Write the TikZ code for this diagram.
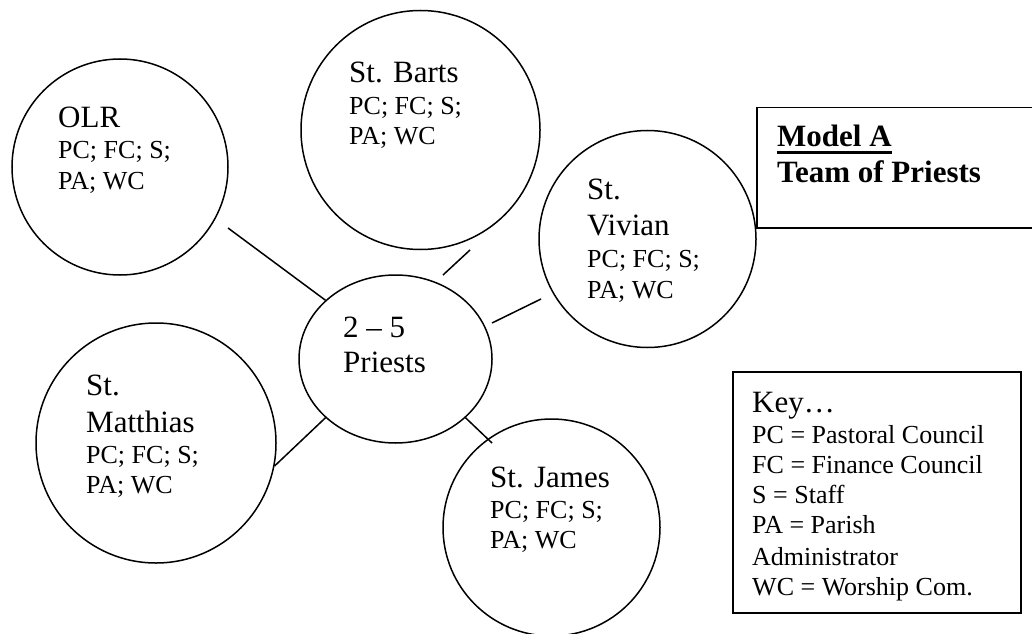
\documentclass[tikz,border=0pt]{standalone}
\usepackage{fontspec}
\setmainfont{Liberation Serif}
\usetikzlibrary{shapes.geometric}
\begin{document}
\begin{tikzpicture}[x=1pt,y=1pt,
  parish/.style={draw,circle,line width=1.5pt,inner sep=0pt},
  big/.style={anchor=base west,inner sep=0pt,font=\fontsize{31}{36}\selectfont},
  small/.style={anchor=base west,inner sep=0pt,font=\fontsize{26}{30}\selectfont},
  bigb/.style={anchor=base west,inner sep=0pt,font=\fontsize{31}{36}\selectfont\bfseries},
  link/.style={line width=1.5pt},
  frame/.style={draw,rectangle,line width=1.5pt,inner sep=0pt}]
\useasboundingbox (0,0) rectangle (1032,633);
% circles
\node[parish,minimum size=216pt] (olr) at (120,466) {};
\node[parish,minimum size=239pt] (bar) at (420.5,503) {};
\node[parish,minimum size=217pt] (viv) at (647.5,394) {};
\node[parish,minimum size=240pt] (mat) at (156,190) {};
\node[parish,minimum size=217pt] (jam) at (551.5,105.5) {};
\node[draw,ellipse,line width=1.5pt,inner sep=0pt,minimum width=193pt,minimum height=168pt] (pri) at (395.5,274) {};
% boxes
\node[frame,minimum width=290pt,minimum height=120pt,anchor=north west] (modbox) at (756,526) {};
\node[frame,minimum width=288pt,minimum height=241pt,anchor=north west] (keybox) at (732,262) {};
% texts
\node[big]   (olr1) at (58,505) {OLR};
\node[small] (olr2) at (58,474) {PC; FC; S;};
\node[small] (olr3) at (58,443) {PA; WC};
\node[big]   (bar1) at (349,550) {St. Barts};
\node[small] (bar2) at (349,518) {PC; FC; S;};
\node[small] (bar3) at (349,488) {PA; WC};
\node[big]   (viv1) at (587,434) {St.};
\node[big]   (viv2) at (587,398) {Vivian};
\node[small] (viv3) at (587,366) {PC; FC; S;};
\node[small] (viv4) at (587,335) {PA; WC};
\node[big]   (mat1) at (86,238) {St.};
\node[big]   (mat2) at (86,201) {Matthias};
\node[small] (mat3) at (86,170) {PC; FC; S;};
\node[small] (mat4) at (86,140) {PA; WC};
\node[big]   (pri1) at (343,296) {2 -- 5};
\node[big]   (pri2) at (343,261) {Priests};
\node[big]   (jam1) at (490,146) {St. James};
\node[small] (jam2) at (490,115) {PC; FC; S;};
\node[small] (jam3) at (490,85) {PA; WC};
\node[bigb]  (modA) at (777,486) {Model A};
\node[bigb]  (modB) at (777,450) {Team of Priests};
\draw[line width=2.6pt] ([yshift=-5.5pt]modA.base west) -- ([yshift=-5.5pt]modA.base east);
\node[big]   (key0) at (752,221) {Key…};
\node[small] (key1) at (752,190) {PC = Pastoral Council};
\node[small] (key2) at (752,160) {FC = Finance Council};
\node[small] (key3) at (752,130) {S = Staff};
\node[small] (key4) at (752,100) {PA = Parish};
\node[small] (key5) at (752,68) {Administrator};
\node[small] (key6) at (752,38) {WC = Worship Com.};
% connectors
\coordinate (c1) at (228,405);
\coordinate (c2a) at (443,358);
\coordinate (c2b) at (470,383);
\coordinate (c3a) at (492,310);
\coordinate (c3b) at (541,334);
\coordinate (c5) at (492,190);
\draw[link] (c1) -- (pri.140);
\draw[link] (c2a) -- (c2b);
\draw[link] (c3a) -- (c3b);
\draw[link] (mat.-11.4) -- (pri.220);
\draw[link] (pri.-40) -- (c5);
\end{tikzpicture}
\end{document}
